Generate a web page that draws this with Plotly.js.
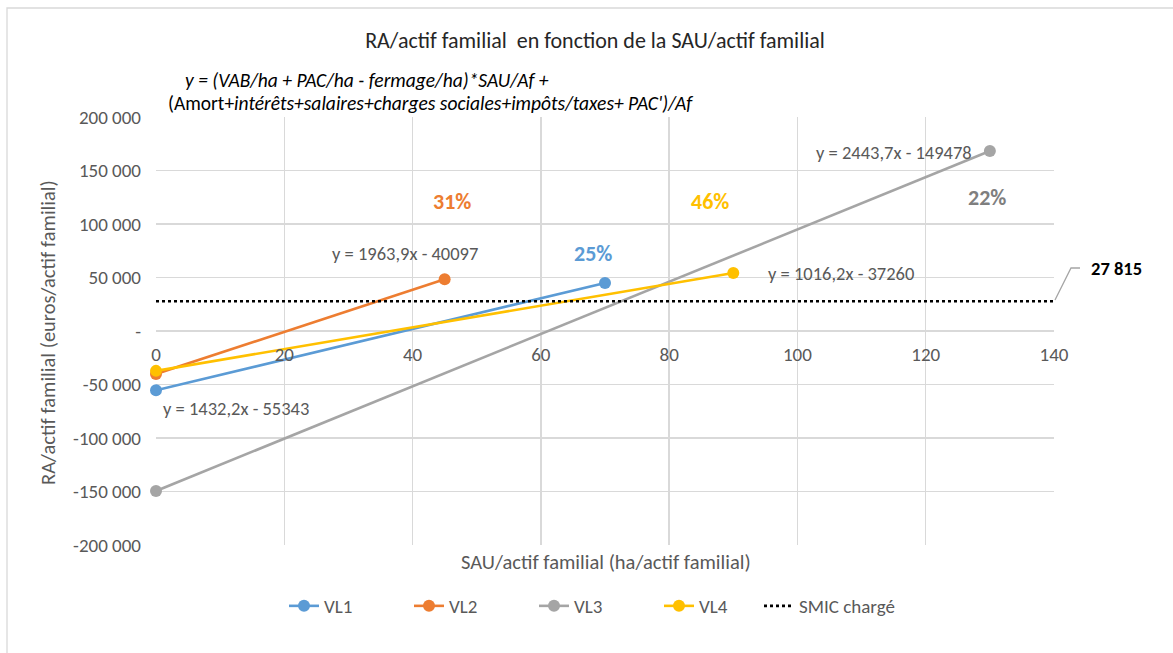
<!DOCTYPE html>
<html>
<head>
<meta charset="utf-8">
<script src="https://cdn.plot.ly/plotly-3.0.1.min.js"></script>
<style>html,body{margin:0;padding:0;background:#fff;}#chart{width:1173px;height:653px;}</style>
</head>
<body>
<div id="chart"></div>
<script>
// Data
const seriesNames = ["VL1", "VL2", "VL3", "VL4"];
const vl1X = [0, 70];
const vl1Y = [-55343, 44911];
const vl2X = [0, 45];
const vl2Y = [-40097, 48278];
const vl3X = [0, 130];
const vl3Y = [-149478, 168203];
const vl4X = [0, 90];
const vl4Y = [-37260, 54198];
const smicX = [0, 140];
const smicY = [27815, 27815];
const smicValueLabel = "27 815";
const equations = ["y = 1432,2x - 55343", "y = 1963,9x - 40097", "y = 2443,7x - 149478", "y = 1016,2x - 37260"];
const shares = ["25%", "31%", "22%", "46%"];
const xTicks = [0, 20, 40, 60, 80, 100, 120, 140];
const yTickVals = [-200000, -150000, -100000, -50000, 0, 50000, 100000, 150000, 200000];
const yTickText = ["-200 000", "-150 000", "-100 000", "-50 000", "-", "50 000", "100 000", "150 000", "200 000"];

const colors = ["#5B9BD5", "#ED7D31", "#A5A5A5", "#FFC000"];
const FONT = "Calibri, Carlito, Lato, 'Open Sans', sans-serif";
const GRAY = "#595959";

const xs = [vl1X, vl2X, vl3X, vl4X];
const ys = [vl1Y, vl2Y, vl3Y, vl4Y];
const traces = seriesNames.map((n, i) => ({
  type: "scatter", mode: "lines+markers", name: n,
  x: xs[i], y: ys[i],
  line: {color: colors[i], width: 2.6},
  marker: {color: colors[i], size: 12},
  cliponaxis: false, legend: "legend"
}));
traces.push({
  type: "scatter", mode: "lines", name: "SMIC chargé",
  x: smicX, y: smicY,
  line: {color: "#000000", width: 2.6, dash: "dot"}, legend: "legend2"
});

// plot area in pixels
const L = 156, R = 1054, T = 117, B = 545;
const px = v => (v - L) / (R - L);
const py = v => (B - v) / (B - T);

const ann = [];
function dataLabel(text, x, y, color, size, bold) {
  ann.push({text: bold ? "<b>" + text + "</b>" : text, x: x, y: y, xref: "x", yref: "y",
    showarrow: false, font: {family: FONT, size: size, color: color}, xanchor: "center", yanchor: "middle"});
}
dataLabel(equations[0], 12.5, -72000, GRAY, 18.5, false);
dataLabel(equations[1], 38.8, 72900, GRAY, 18.5, false);
dataLabel(equations[2], 115.1, 166400, GRAY, 18.5, false);
dataLabel(equations[3], 106.8, 53300, GRAY, 18.5, false);
dataLabel(shares[0], 68.1, 72000, colors[0], 22, true);
dataLabel(shares[1], 46.1, 121500, colors[1], 22, true);
dataLabel(shares[2], 129.6, 125200, "#7F7F7F", 22, true);
dataLabel(shares[3], 86.4, 121500, colors[3], 22, true);

function paperLabel(text, x, y, size, color, xanchor, angle) {
  ann.push({text: text, x: px(x), y: py(y), xref: "paper", yref: "paper", showarrow: false,
    font: {family: FONT, size: size, color: color}, xanchor: xanchor || "center", yanchor: "middle",
    textangle: angle || 0});
}
paperLabel("<b>" + smicValueLabel + "</b>", 1089, 268, 18.5, "#000000", "left");
paperLabel("<i>y = (VAB/ha + PAC/ha - fermage/ha)*SAU/Af +</i>", 183, 80, 19.5, "#000000", "left");
paperLabel("(Amort+<i>intérêts+salaires+charges sociales+impôts/taxes+ PAC')/Af</i>", 166, 103, 19.5, "#000000", "left");
paperLabel("SAU/actif familial (ha/actif familial)", 606, 562, 20.5, GRAY, "center");
paperLabel("RA/actif familial (euros/actif familial)", 48, 333, 20.5, GRAY, "center", -90);

const legendFont = {family: FONT, size: 19, color: GRAY};
const layout = {
  width: 1173, height: 653,
  margin: {l: L, r: 1173 - R, t: T, b: 653 - B},
  paper_bgcolor: "#ffffff", plot_bgcolor: "#ffffff",
  font: {family: FONT, size: 19, color: GRAY},
  title: {text: "RA/actif familial  en fonction de la SAU/actif familial", x: 595/1173, xanchor: "center", y: 1 - 40/653, yanchor: "middle",
    font: {family: FONT, size: 22, color: "#262626"}},
  showlegend: true,
  legend: {orientation: "h", x: px(284), xanchor: "left", y: py(606), yanchor: "middle",
    font: legendFont, entrywidth: 80, entrywidthmode: "pixels", traceorder: "normal"},
  legend2: {orientation: "h", x: px(759), xanchor: "left", y: py(606), yanchor: "middle",
    font: legendFont},
  xaxis: {range: [0, 140], tickvals: xTicks, ticktext: xTicks.map(String),
    showgrid: true, gridcolor: "#D9D9D9", gridwidth: 1.3,
    zeroline: false, showline: false, anchor: "free", position: 0.5,
    ticks: "", ticklabelstandoff: 10, tickfont: {family: FONT, size: 19, color: GRAY}},
  yaxis: {range: [-200000, 200000], tickvals: yTickVals, ticktext: yTickText,
    showgrid: true, gridcolor: "#D9D9D9", gridwidth: 1.3,
    zeroline: true, zerolinecolor: "#D9D9D9", zerolinewidth: 1.3, showline: false,
    ticks: "", ticklabelstandoff: 14, tickfont: {family: FONT, size: 19, color: GRAY}},
  annotations: ann,
  shapes: [
    {type: "rect", xref: "paper", yref: "paper", x0: px(7), x1: px(1200), y0: py(8), y1: py(680),
      line: {color: "#D9D9D9", width: 1.3}, fillcolor: "rgba(0,0,0,0)", layer: "below"},
    {type: "path", xref: "paper", yref: "paper",
      path: "M " + px(1055) + " " + py(300) + " L " + px(1071) + " " + py(268) + " L " + px(1080) + " " + py(268),
      line: {color: "#A5A5A5", width: 1.3}}
  ]
};

Plotly.newPlot("chart", traces, layout, {displayModeBar: false, staticPlot: true});
</script>
</body>
</html>
